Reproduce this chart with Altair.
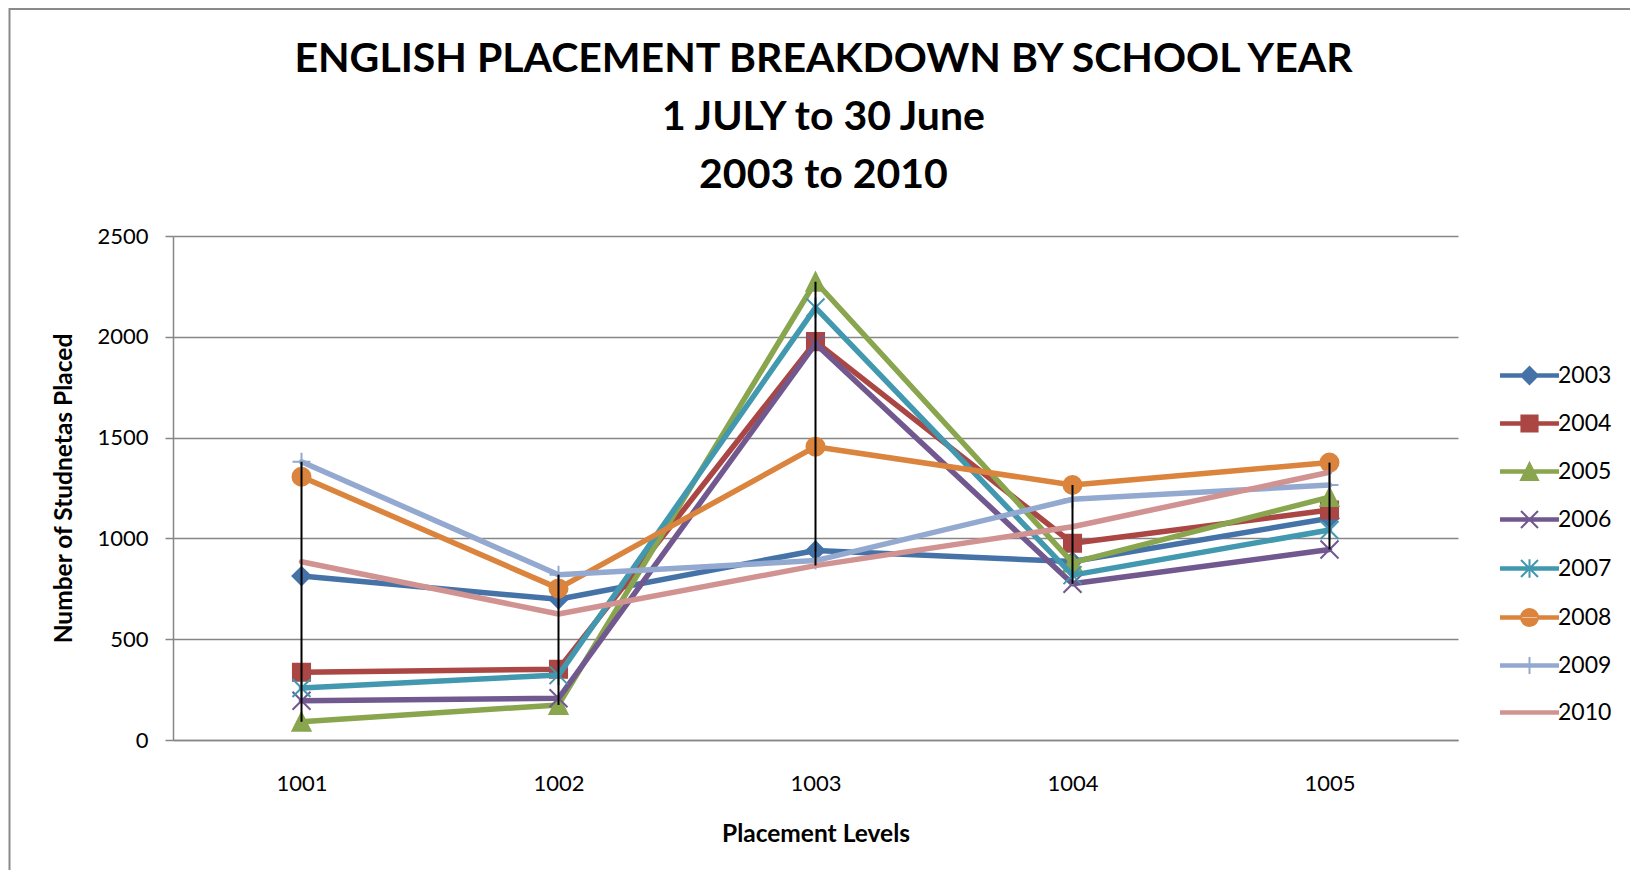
import altair as alt
import pandas as pd

levels = ["1001", "1002", "1003", "1004", "1005"]
years = ["2003", "2004", "2005", "2006", "2007", "2008", "2009", "2010"]

v2003 = [813, 698, 940, 885, 1100]
v2004 = [336, 351, 1976, 976, 1141]
v2005 = [90, 174, 2273, 880, 1205]
v2006 = [195, 207, 1965, 775, 945]
v2007 = [258, 322, 2145, 818, 1042]
v2008 = [1306, 752, 1455, 1265, 1376]
v2009 = [1380, 820, 890, 1194, 1265]
v2010 = [884, 625, 865, 1058, 1328]
series = [v2003, v2004, v2005, v2006, v2007, v2008, v2009, v2010]

colors = ["#4572A7", "#AA4643", "#89A54E", "#71588F",
          "#4198AF", "#DB843D", "#93A9CF", "#D19392"]

marker_paths = [
    "M0,-1L1,0L0,1L-1,0Z",
    "M-0.95,-0.95L0.95,-0.95L0.95,0.95L-0.95,0.95Z",
    "M0,-1L1,1L-1,1Z",
    "M-1,-1L1,1M-1,1L1,-1",
    "M-1,-1L1,1M-1,1L1,-1M0,-1.1L0,1.1",
    "circle",
    "M-1,0L1,0M0,-1L0,1",
    None,
]

LINE = "M-3.35,-0.16L3.35,-0.16L3.35,0.16L-3.35,0.16Z"
legend_paths = [
    LINE + "M0,-1L1,0L0,1L-1,0Z",
    LINE + "M-0.95,-0.95L0.95,-0.95L0.95,0.95L-0.95,0.95Z",
    LINE + "M0,-1L1,1L-1,1Z",
    LINE + "M-1,-1L1,1M-1,1L1,-1",
    LINE + "M-1,-1L1,1M-1,1L1,-1M0,-1.1L0,1.1",
    LINE + "M-1,0A1,1 0 1,0 1,0A1,1 0 1,0 -1,0Z",
    LINE + "M0,-1L0,1",
    LINE,
]

rows = []
for yr, vals in zip(years, series):
    for lv, v in zip(levels, vals):
        rows.append({"level": lv, "year": yr, "value": v})
df = pd.DataFrame(rows)

W, H = 1285, 504
FONT = "Lato"
YTITLE = "Number of Studnetas Placed"

xenc = alt.X(
    "level:N", sort=levels,
    scale=alt.Scale(type="point", padding=0.5),
    axis=alt.Axis(title="Placement Levels", labelAngle=0, ticks=False, tickSize=0,
                  labelPadding=33, titlePadding=28, grid=False),
)
yscale = alt.Scale(domain=[0, 2500], nice=False)
yaxis = alt.Axis(title=YTITLE, values=[0, 500, 1000, 1500, 2000, 2500], grid=True,
                 format="d", tickSize=8, labelPadding=17, titlePadding=20)
yenc = alt.Y("value:Q", scale=yscale, axis=yaxis)

layers = []
frame = alt.Chart(pd.DataFrame({"a": [0]})).mark_rect(
    fill=None, stroke="#8a8a8a", strokeWidth=2
).encode(
    x=alt.value(-163.5), x2=alt.value(1480), y=alt.value(-227), y2=alt.value(700)
)
layers.append(frame)

for yr, col, shp in zip(years, colors, marker_paths):
    base = alt.Chart(df).transform_filter(alt.datum.year == yr)
    layers.append(
        base.mark_line(strokeWidth=5.5, strokeCap="round", strokeJoin="round", color=col)
        .encode(x=xenc, y=yenc)
    )
    if shp is not None:
        layers.append(
            base.mark_point(shape=shp, filled=True, fill=col, stroke=col, size=324,
                            strokeWidth=2, opacity=1)
            .encode(x=xenc, y=yenc)
        )

hilo = alt.Chart(df).mark_rule(color="black", strokeWidth=2).encode(
    x=xenc,
    y=alt.Y("min(value):Q", scale=yscale, axis=yaxis),
    y2="max(value):Q",
)
layers.append(hilo)

leg = alt.Legend(
    title=None, orient="none", legendX=1345, legendY=128,
    symbolSize=289, symbolStrokeWidth=2, labelOffset=17, rowPadding=23,
    labelFont=FONT, labelFontSize=23, labelColor="black", padding=0,
)
legend_layer = alt.Chart(df).mark_point(filled=True, clip=True, strokeWidth=2, opacity=1).encode(
    x=alt.value(-600), y=alt.value(-600),
    fill=alt.Fill("year:N", scale=alt.Scale(domain=years, range=colors), legend=leg),
    stroke=alt.Stroke("year:N", scale=alt.Scale(domain=years, range=colors), legend=leg),
    shape=alt.Shape("year:N", scale=alt.Scale(domain=years, range=legend_paths), legend=leg),
)
layers.append(legend_layer)

chart = alt.layer(*layers).properties(
    width=W, height=H,
    padding={"left": 165, "top": 228, "right": 172, "bottom": 130},
    autosize=alt.AutoSizeParams(type="none"),
    title=alt.Title(
        ["ENGLISH PLACEMENT BREAKDOWN BY SCHOOL YEAR", "1 JULY to 30 June", "2003 to 2010"],
        font=FONT, fontSize=41, fontWeight="bold", color="black",
        anchor="middle", frame="group", lineHeight=58,
        offset=-189, dx=8,
    ),
).configure_view(stroke=None).configure_axis(
    labelFont=FONT, labelFontSize=22, labelColor="black",
    titleFont=FONT, titleFontSize=24.5, titleFontWeight="bold", titleColor="black",
    domainColor="#868686", gridColor="#868686", tickColor="#868686",
    domainWidth=1.5, gridWidth=1.5, tickWidth=1.5,
)

chart.save("out.html", embed_options={"renderer": "svg", "actions": False})
